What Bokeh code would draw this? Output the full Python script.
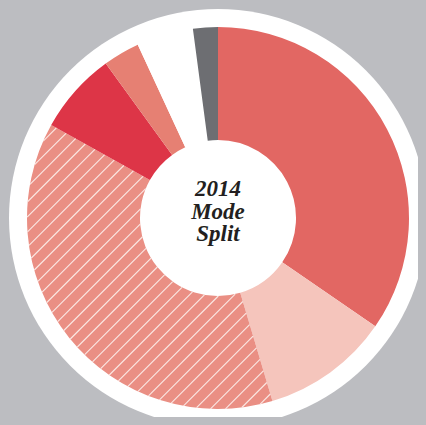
import numpy as np
from bokeh.plotting import figure
from bokeh.models import ColumnDataSource, Range1d
from bokeh.core.properties import value
from bokeh.embed import file_html
from bokeh.resources import INLINE

# ---- data (percent share, clockwise from 12 o'clock) ----
modes = ["Drive Alone", "Carpool", "Transit", "Bicycle", "Walk", "Other", "Work at Home"]
shares = [34.6, 10.8, 37.7, 6.9, 3.1, 4.8, 2.1]
colors = ["#e26763", "#f5c5bc", "#ea8f84", "#dd3547", "#e68073", "#ffffff", "#6d6e72"]
hatches = ["", "", "/", "", "", "", ""]
title_lines = ["2014", "Mode", "Split"]

BG = "#bcbdc1"
W, H = 418, 417
cx, cy = 217.5, H - 217.5
R_IN, R_OUT, R_DISC = 78, 191, 209
HATCH_STEP = 15
HATCH_PHASE = 68.7

vals = np.array(shares, dtype=float)
frac = vals / vals.sum()
cum = np.cumsum(frac)
theta_end = 2 * np.pi * cum
theta_start = theta_end - 2 * np.pi * frac
src = ColumnDataSource(dict(
    mode=modes, share=shares, color=colors,
    start=np.pi / 2 - theta_end, end=np.pi / 2 - theta_start,
    x=[cx] * len(modes), y=[cy] * len(modes),
))

p = figure(width=W, height=H, x_range=Range1d(0, W), y_range=Range1d(0, H),
           x_axis_type=None, y_axis_type=None, toolbar_location=None,
           output_backend="svg", min_border=0)
p.grid.visible = False
p.outline_line_color = None
p.background_fill_color = BG
p.border_fill_color = BG

# white disc behind the donut
p.circle(x=[cx], y=[cy], radius=R_DISC, radius_units="screen",
         fill_color="white", line_color=None)

p.annular_wedge(x="x", y="y", inner_radius=R_IN, outer_radius=R_OUT,
                inner_radius_units="screen", outer_radius_units="screen",
                start_angle="start", end_angle="end", source=src,
                fill_color="color", line_color=None)

# 45-degree hatch lines clipped to the hatched wedge(s)
hx, hy = [], []
xs = np.arange(cx - R_OUT - 2, cx + R_OUT + 2, 0.1)
cs = HATCH_PHASE + HATCH_STEP * np.arange(-40, 41)
for i, h in enumerate(hatches):
    if h != "/":
        continue
    t0, t1 = theta_start[i], theta_end[i]
    for c in cs:
        ys = xs + c
        dx, dy = xs - cx, ys - cy
        r = np.hypot(dx, dy)
        th = np.mod(np.arctan2(dx, dy), 2 * np.pi)
        m = (r >= R_IN) & (r <= R_OUT) & (th >= t0) & (th <= t1)
        if not m.any():
            continue
        d = np.diff(m.astype(int))
        starts = list(np.where(d == 1)[0] + 1)
        ends = list(np.where(d == -1)[0])
        if m[0]:
            starts = [0] + starts
        if m[-1]:
            ends = ends + [len(m) - 1]
        for s, e in zip(starts, ends):
            if e > s:
                hx.append([xs[s], xs[e]])
                hy.append([ys[s], ys[e]])

p.multi_line(xs=hx, ys=hy, line_color="#fbe9e5", line_width=1.1)

offsets = [29.5, 6.5, -15.5]
p.text(x=[cx] * 3, y=[cy + o for o in offsets], text=title_lines,
       text_font=value("Liberation Serif"), text_font_style="bold italic",
       text_font_size="23px", text_color="#231f20",
       text_align="center", text_baseline="alphabetic")

html = file_html(p, INLINE)
html = html.replace("</head>", "<style>html,body{background:%s;}</style></head>" % BG, 1)
open("out.html", "w").write(html)
